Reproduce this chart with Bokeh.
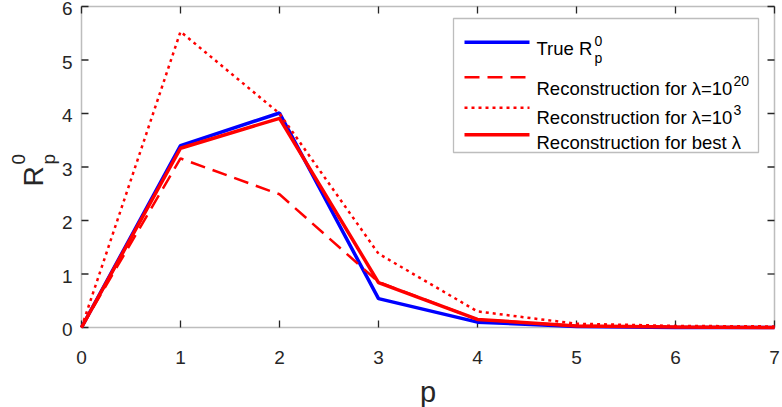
import math
from bokeh.plotting import figure
from bokeh.models import Label, BoxAnnotation, Range1d
from bokeh.core.properties import value
from bokeh.embed import file_html
from bokeh.resources import INLINE

# ---- data -------------------------------------------------------------
p_vals = [0, 1, 2, 3, 4, 5, 6, 7]
r_true = [0.0, 3.40, 4.01, 0.54, 0.10, 0.02, 0.00, 0.00]
r_lam20 = [0.0, 3.16, 2.49, 0.85, 0.15, 0.03, 0.01, 0.00]
r_lam3 = [0.0, 5.53, 4.00, 1.38, 0.30, 0.07, 0.03, 0.02]
r_best = [0.0, 3.35, 3.91, 0.84, 0.15, 0.03, 0.01, 0.00]

x_ticks = [0, 1, 2, 3, 4, 5, 6, 7]
y_ticks = [0, 1, 2, 3, 4, 5, 6]

# ---- layout (pixels): the axes box sits inside a full-canvas frame -----
W, H = 782, 407
FL, FR, FT, FB = 81, 774, 6, 327
XMIN, XMAX, YMIN, YMAX = 0, 7, 0, 6
FONT = "Liberation Sans"
AX = "#262626"
BLUE = "#0000ff"
RED = "#ff0000"
TICK = 7

UX = (XMAX - XMIN) / (FR - FL)   # data units per pixel
UY = (YMAX - YMIN) / (FB - FT)


def dx(px):
    return XMIN + (px - FL) * UX


def dy(py):
    return YMIN + (FB - py) * UY


p = figure(width=W, height=H,
           x_range=Range1d(dx(0), dx(W)), y_range=Range1d(dy(H), dy(0)),
           output_backend="svg", toolbar_location=None,
           x_axis_location=None, y_axis_location=None,
           min_border=0, min_border_left=0, min_border_right=0,
           min_border_top=0, min_border_bottom=0)
p.grid.visible = False
p.outline_line_color = None
p.background_fill_color = "white"
p.border_fill_color = "white"

# ---- axes box, ticks and tick labels -------------------------------------
p.add_layout(BoxAnnotation(left=XMIN, right=XMAX, bottom=YMIN, top=YMAX,
                           fill_alpha=0, line_color=AX, line_width=1.5, level="underlay"))

n_x, n_y = len(x_ticks), len(y_ticks)
tick_style = dict(line_color=AX, line_width=1.3)
p.segment(x0=x_ticks, y0=[YMIN] * n_x, x1=x_ticks, y1=[YMIN + TICK * UY] * n_x, **tick_style)
p.segment(x0=x_ticks, y0=[YMAX] * n_x, x1=x_ticks, y1=[YMAX - TICK * UY] * n_x, **tick_style)
p.segment(x0=[XMIN] * n_y, y0=y_ticks, x1=[XMIN + TICK * UX] * n_y, y1=y_ticks, **tick_style)
p.segment(x0=[XMAX] * n_y, y0=y_ticks, x1=[XMAX - TICK * UX] * n_y, y1=y_ticks, **tick_style)

p.text(x=x_ticks, y=[dy(357)] * n_x, text=[str(t) for t in x_ticks],
       text_font=value(FONT), text_font_size=value("19px"), text_color=AX,
       text_align="center", text_baseline="alphabetic")
p.text(x=[XMIN - 9 * UX] * n_y, y=[t - 2 * UY for t in y_ticks], text=[str(t) for t in y_ticks],
       text_font=value(FONT), text_font_size=value("19px"), text_color=AX,
       text_align="right", text_baseline="middle")

# ---- curves -------------------------------------------------------------
p.line(p_vals, r_true, line_color=BLUE, line_width=3.5)
p.line(p_vals, r_lam20, line_color=RED, line_width=2.5, line_dash="15 8")
p.line(p_vals, r_lam3, line_color=RED, line_width=2.5, line_dash="3 4")
p.line(p_vals, r_best, line_color=RED, line_width=3.5)


# ---- axis labels ---------------------------------------------------------
def label(px, py, text, size, color=AX, **kw):
    p.add_layout(Label(x=dx(px), y=dy(py), text=text, text_font=FONT,
                       text_font_size=size, text_color=color,
                       text_baseline="alphabetic", **kw))


label(427.5, 391, "p", "29px", text_align="center")
rot = math.pi / 2
label(33, 186, "R", "28px", angle=rot, text_align="left")
label(18, 164, "0", "19px", angle=rot, text_align="left")
label(48, 164, "p", "19px", angle=rot, text_align="left")

# ---- legend -------------------------------------------------------------
p.add_layout(BoxAnnotation(left=dx(453), right=dx(758), top=dy(18), bottom=dy(152),
                           fill_color="white", fill_alpha=1.0, line_color=AX,
                           line_width=1.3, level="underlay"))

LX0, LX1, TX = 464, 529, 536
rows = [
    (41.7, dict(line_color=BLUE, line_width=3.5), "True R", 48.3),
    (76.7, dict(line_color=RED, line_width=2.5, line_dash="15 8"), "Reconstruction for \u03bb=10", 88.3),
    (107.3, dict(line_color=RED, line_width=2.5, line_dash="3 4"), "Reconstruction for \u03bb=10", 116.7),
    (134.3, dict(line_color=RED, line_width=3.5), "Reconstruction for best \u03bb", 141.7),
]
for ly, style, txt, base in rows:
    p.line([dx(LX0), dx(LX1)], [dy(ly), dy(ly)], **style)
    label(TX, base, txt, "18.5px", color="black", text_align="left")

scripts = [
    (594, 40, "0"), (594, 57, "p"),
    (733, 80, "20"), (733, 109, "3"),
]
for px_, pb, st in scripts:
    label(px_, pb, st, "14px", color="black", text_align="left")

open("out.html", "w").write(file_html(p, INLINE))
